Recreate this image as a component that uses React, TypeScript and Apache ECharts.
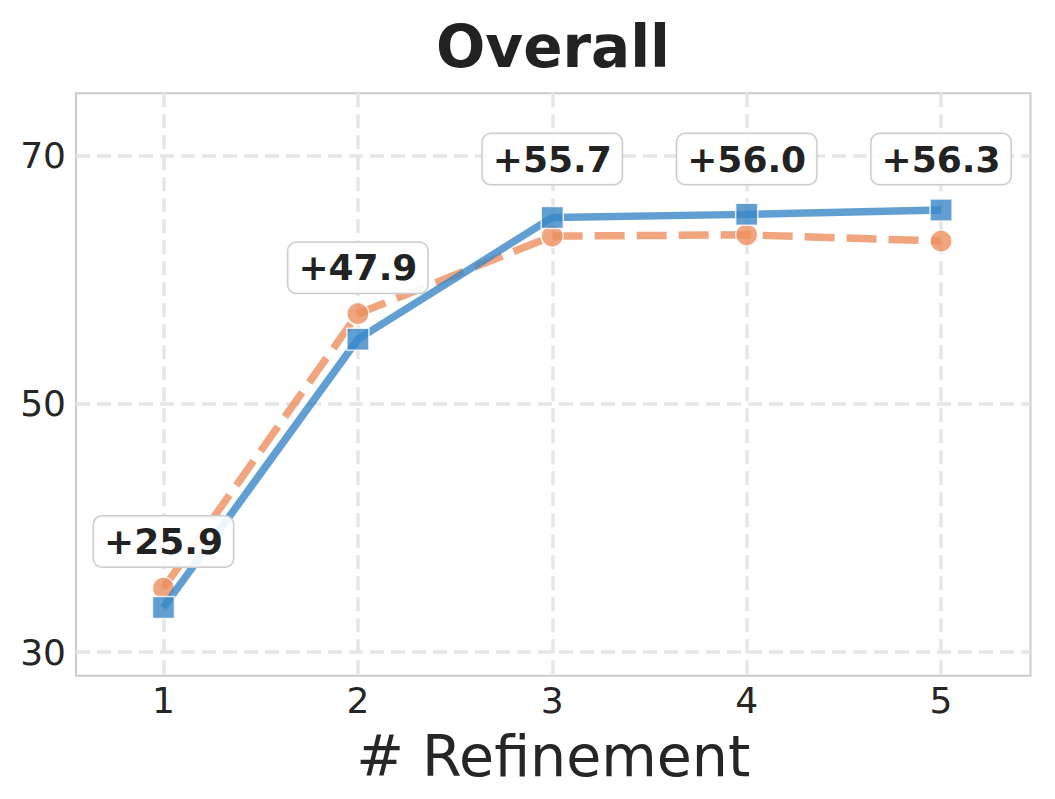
import React, { useEffect, useRef } from "react";
import * as echarts from "echarts";

const refinements = [1, 2, 3, 4, 5];
const blueValues = [33.6, 55.2, 65.0, 65.25, 65.6];
const orangeValues = [35.15, 57.25, 63.5, 63.6, 63.1];
const gainLabels = ["+25.9", "+47.9", "+55.7", "+56.0", "+56.3"];
const labelAnchors = [38.9, 60.95, 69.7, 69.7, 69.7];
const yTicks = [30, 50, 70];
const titleText = "Overall";
const xAxisName = "# Refinement";

const FONT = "'DejaVu Sans', 'Liberation Sans', sans-serif";

export default function App() {
  const ref = useRef<HTMLDivElement>(null);
  useEffect(() => {
    document.body.style.margin = "0";
    if (!ref.current) return;
    const chart = echarts.init(ref.current, undefined, { renderer: "svg" });
    const gridLine = { show: true, lineStyle: { color: "#e6e6e6", width: 3.5, type: [14, 7] as any } };
    chart.setOption({
      animation: false,
      backgroundColor: "#ffffff",
      grid: {
        left: 76,
        right: 24.5,
        top: 93.3,
        bottom: 123.3,
        show: true,
        borderColor: "#cccccc",
        borderWidth: 2,
        backgroundColor: "transparent",
      },
      graphic: [
        {
          type: "text",
          x: 553,
          y: 47,
          z: 100,
          style: {
            text: titleText,
            font: `bold 58px ${FONT}`,
            fill: "#222222",
            textAlign: "center",
            textVerticalAlign: "middle",
          },
        },
      ],
      xAxis: {
        type: "value",
        min: 0.55,
        max: 5.46,
        name: xAxisName,
        nameLocation: "middle",
        nameGap: 52,
        nameTextStyle: { fontSize: 57, color: "#262626", fontFamily: FONT },
        axisLine: { show: false },
        axisTick: { show: false, customValues: refinements },
        axisLabel: {
          customValues: refinements,
          fontSize: 36,
          color: "#262626",
          fontFamily: FONT,
          margin: 7,
        },
        splitLine: gridLine,
      },
      yAxis: {
        type: "value",
        min: 28.1,
        max: 75,
        axisLine: { show: false },
        axisTick: { show: false, customValues: yTicks },
        axisLabel: {
          customValues: yTicks,
          fontSize: 36,
          color: "#262626",
          fontFamily: FONT,
          margin: 10,
        },
        splitLine: gridLine,
      },
      series: [
        {
          type: "line",
          data: refinements.map((x, i) => [x, orangeValues[i]]),
          symbol: "circle",
          symbolSize: 22,
          z: 3,
          lineStyle: { color: "#ee8e5e", opacity: 0.8, width: 7.5, type: [30, 12] as any },
          itemStyle: { color: "#ee8e5e", opacity: 0.8, borderColor: "#ffffff", borderWidth: 1.5 },
        },
        {
          type: "line",
          data: refinements.map((x, i) => [x, blueValues[i]]),
          symbol: "rect",
          symbolSize: 22,
          z: 4,
          lineStyle: { color: "#3a87c8", opacity: 0.8, width: 7.5 },
          itemStyle: { color: "#3a87c8", opacity: 0.8, borderColor: "#ffffff", borderWidth: 1.5 },
        },
        {
          type: "scatter",
          data: refinements.map((x, i) => [x, labelAnchors[i]]),
          symbolSize: 0,
          z: 10,
          itemStyle: { opacity: 1 },
          label: {
            show: true,
            position: "inside",
            formatter: (p: any) => gainLabels[p.dataIndex],
            fontSize: 36,
            fontWeight: "bold",
            fontFamily: FONT,
            color: "#222222",
            opacity: 1,
            lineHeight: 42,
            backgroundColor: "rgba(255,255,255,0.9)",
            borderColor: "#cccccc",
            borderWidth: 1.5,
            borderRadius: 8,
            padding: [4, 10],
          },
        },
      ],
    });
    return () => chart.dispose();
  }, []);
  return <div ref={ref} style={{ width: 1055, height: 799 }} />;
}
